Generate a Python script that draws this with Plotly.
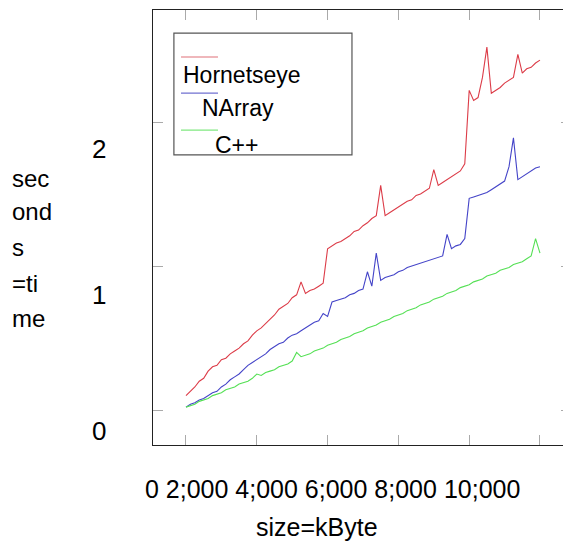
import plotly.graph_objects as go

# ---- data ----
sizes_kbyte = [
    0, 125, 250, 375, 500, 625, 750, 875, 1000, 1125,
    1250, 1375, 1500, 1625, 1750, 1875, 2000, 2125, 2250, 2375,
    2500, 2625, 2750, 2875, 3000, 3125, 3250, 3375, 3500, 3625,
    3750, 3875, 4000, 4125, 4250, 4375, 4500, 4625, 4750, 4875,
    5000, 5125, 5250, 5375, 5500, 5625, 5750, 5875, 6000, 6125,
    6250, 6375, 6500, 6625, 6750, 6875, 7000, 7125, 7250, 7375,
    7500, 7625, 7750, 7875, 8000, 8125, 8250, 8375, 8500, 8625,
    8750, 8875, 9000, 9125, 9250, 9375, 9500, 9625, 9750, 9875,
    10000,
]

hornetseye = [
    0.10, 0.13, 0.16, 0.20, 0.22, 0.27, 0.30, 0.31, 0.35, 0.36,
    0.39, 0.41, 0.43, 0.46, 0.48, 0.52, 0.55, 0.57, 0.60, 0.63,
    0.66, 0.70, 0.72, 0.74, 0.78, 0.80, 0.89, 0.81, 0.83, 0.84,
    0.86, 0.88, 1.12, 1.14, 1.16, 1.17, 1.19, 1.21, 1.24, 1.25,
    1.28, 1.30, 1.33, 1.35, 1.56, 1.35, 1.37, 1.39, 1.41, 1.43,
    1.45, 1.46, 1.49, 1.50, 1.52, 1.54, 1.67, 1.56, 1.58, 1.60,
    1.62, 1.64, 1.66, 1.71, 2.22, 2.15, 2.17, 2.31, 2.52, 2.20,
    2.22, 2.24, 2.27, 2.29, 2.31, 2.47, 2.34, 2.37, 2.38, 2.41,
    2.43,
]

narray = [
    0.02, 0.04, 0.05, 0.07, 0.08, 0.10, 0.12, 0.13, 0.16, 0.18,
    0.21, 0.23, 0.25, 0.28, 0.31, 0.33, 0.35, 0.37, 0.39, 0.42,
    0.44, 0.46, 0.47, 0.50, 0.52, 0.53, 0.55, 0.57, 0.59, 0.61,
    0.62, 0.67, 0.65, 0.75, 0.76, 0.77, 0.78, 0.80, 0.81, 0.83,
    0.84, 0.96, 0.86, 1.09, 0.90, 0.92, 0.93, 0.94, 0.96, 0.97,
    0.99, 1.00, 1.01, 1.02, 1.03, 1.04, 1.05, 1.06, 1.07, 1.22,
    1.12, 1.14, 1.15, 1.19, 1.47, 1.48, 1.49, 1.50, 1.51, 1.53,
    1.55, 1.57, 1.59, 1.69, 1.89, 1.60, 1.62, 1.64, 1.66, 1.68,
    1.69,
]

cpp = [
    0.02, 0.03, 0.04, 0.06, 0.07, 0.08, 0.10, 0.11, 0.12, 0.14,
    0.15, 0.16, 0.18, 0.19, 0.20, 0.22, 0.25, 0.24, 0.26, 0.27,
    0.28, 0.30, 0.31, 0.32, 0.34, 0.40, 0.37, 0.38, 0.39, 0.41,
    0.42, 0.43, 0.45, 0.46, 0.47, 0.49, 0.50, 0.51, 0.53, 0.54,
    0.55, 0.57, 0.58, 0.59, 0.61, 0.62, 0.63, 0.65, 0.66, 0.67,
    0.69, 0.70, 0.71, 0.73, 0.74, 0.75, 0.77, 0.78, 0.79, 0.81,
    0.82, 0.83, 0.85, 0.86, 0.87, 0.89, 0.90, 0.91, 0.93, 0.94,
    0.95, 0.97, 0.98, 0.99, 1.01, 1.02, 1.03, 1.05, 1.07, 1.19,
    1.09,
]

series_names = ["Hornetseye", "NArray", "C++"]
series_colors = ["#dc3c48", "#4444c8", "#55e055"]
legend_colors = ["#e07078", "#7070d0", "#80e880"]

x_tick_vals = [0, 2000, 4000, 6000, 8000, 10000]
x_tick_labels = ["0", "2;000", "4;000", "6;000", "8;000", "10;000"]
y_tick_vals = [0, 1, 2]
y_tick_labels = ["0", "1", "2"]

x_title = "size=kByte"
y_title_lines = ["sec", "ond", "s", "=ti", "me"]

FONT = "Liberation Sans Narrow, Arial Narrow, Liberation Sans, Arial, sans-serif"

fig = go.Figure()
for name, ys, col in zip(series_names, [hornetseye, narray, cpp], series_colors):
    fig.add_trace(go.Scatter(x=sizes_kbyte, y=ys, mode="lines", name=name,
                             line=dict(color=col, width=1.1), showlegend=False))

axis_common = dict(showgrid=False, zeroline=False, showline=True, linecolor="#222",
                   linewidth=1, mirror="ticks", ticks="inside", ticklen=10,
                   tickcolor="#aaa", tickwidth=1, showticklabels=False)

fig.update_layout(
    width=563, height=537,
    margin=dict(l=145, r=0, t=2, b=100),
    paper_bgcolor="white", plot_bgcolor="white",
    font=dict(family=FONT, size=25, color="black"),
    xaxis=dict(range=[-932, 10876], tickvals=x_tick_vals, **axis_common),
    yaxis=dict(range=[-0.243, 2.778], tickvals=y_tick_vals, **axis_common),
)

annotations = []
# x tick labels (rendered as one line, as in the reference)
annotations.append(dict(text=" ".join(x_tick_labels), xref="paper", yref="paper",
                        x=0.4306, y=-0.101, xanchor="center", yanchor="middle",
                        showarrow=False, font=dict(family=FONT, size=25)))
# y tick labels
y_label_pos = [0.032, 0.345, 0.680]
for lab, yp in zip(y_tick_labels, y_label_pos):
    annotations.append(dict(text=lab, xref="paper", yref="paper", x=-0.129, y=yp,
                            xanchor="center", yanchor="middle", showarrow=False,
                            font=dict(family=FONT, size=26)))
# axis titles
annotations.append(dict(text=x_title, xref="paper", yref="paper", x=0.392, y=-0.189,
                        xanchor="center", yanchor="middle", showarrow=False,
                        font=dict(family=FONT, size=25)))
# y title, wrapped line by line as in the reference
y_title_line_pos = [0.613, 0.536, 0.455, 0.372, 0.290]
for line, yp in zip(y_title_lines, y_title_line_pos):
    annotations.append(dict(text=line, xref="paper", yref="paper",
                            x=-0.342, y=yp, xanchor="left", yanchor="middle",
                            align="left", showarrow=False,
                            font=dict(family=FONT, size=24)))

# manual legend
legend_line_y = [0.892, 0.809, 0.724]
legend_text_pos = [(0.067, 0.851), (0.1124, 0.775), (0.1435, 0.690)]
shapes = [dict(type="rect", xref="paper", yref="paper", x0=0.050, x1=0.476,
               y0=0.667, y1=0.947, line=dict(color="#555", width=1.2),
               fillcolor="white", layer="below")]
for col, ly in zip(legend_colors, legend_line_y):
    shapes.append(dict(type="line", xref="paper", yref="paper", x0=0.067, x1=0.1555,
                       y0=ly, y1=ly, line=dict(color=col, width=1.2)))
for name, (tx, ty) in zip(series_names, legend_text_pos):
    annotations.append(dict(text=name, xref="paper", yref="paper", x=tx, y=ty,
                            xanchor="left", yanchor="middle", showarrow=False,
                            font=dict(family=FONT, size=23)))

fig.update_layout(annotations=annotations, shapes=shapes)
fig.write_html("out.html")
